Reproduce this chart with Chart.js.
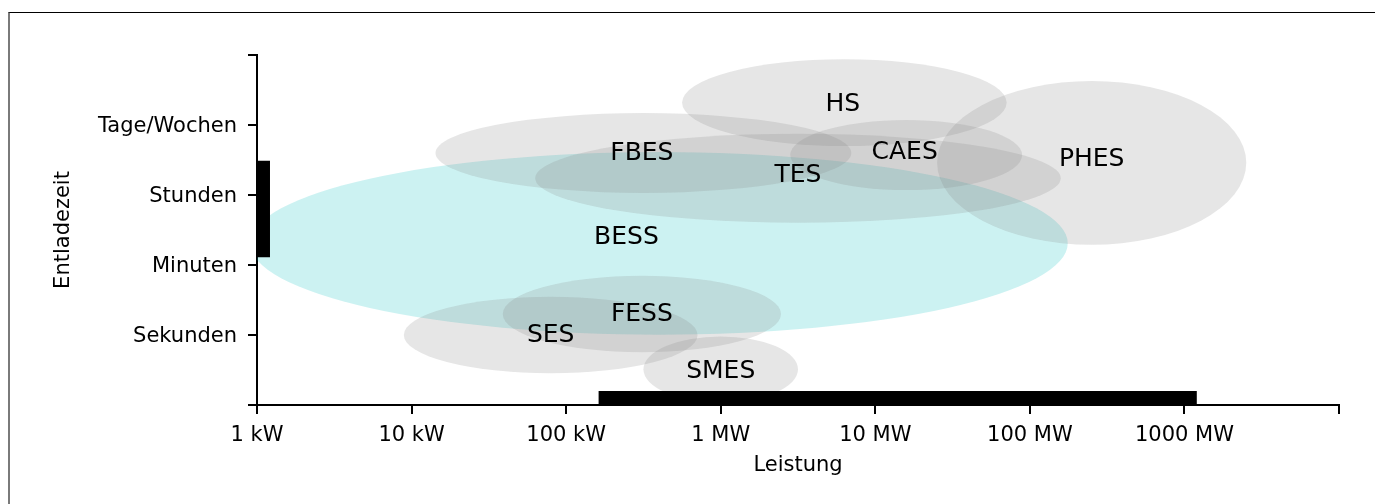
<!DOCTYPE html>
<html>
<head>
<meta charset="utf-8">
<script src="https://cdn.jsdelivr.net/npm/chart.js@4.4.1/dist/chart.umd.min.js"></script>
<style>
  html, body { margin: 0; padding: 0; background: #fff; }
  #wrap { position: relative; width: 1375px; height: 504px; overflow: hidden; }
  #myChart { position: absolute; left: 0; top: 0; }
  #frame { position: absolute; left: 8px; top: 12px; right: -10px; bottom: -10px;
           border-top: 1px solid #000; border-left: 2px solid #7a7a7a; pointer-events: none; }
</style>
</head>
<body>
<div id="wrap">
  <canvas id="myChart" width="1375" height="504"></canvas>
  <div id="frame"></div>
</div>
<script>
// x is in decades above 1 kW, y is the discharge time class (1 = Sekunden ... 4 = Tage/Wochen)
var xTickLabels = ['1 kW', '10 kW', '100 kW', '1 MW', '10 MW', '100 MW', '1000 MW', ''];
var yTickLabels = ['', 'Sekunden', 'Minuten', 'Stunden', 'Tage/Wochen', ''];

// the storage technologies: ellipse centre and full width / height
var techNames = ['BESS', 'FBES', 'TES', 'HS', 'CAES', 'PHES', 'FESS', 'SES', 'SMES'];
var centerX   = [2.60, 2.50, 3.50, 3.80, 4.20, 5.40, 2.49, 1.90, 3.00];
var centerY   = [2.31, 3.60, 3.24, 4.32, 3.57, 3.46, 1.30, 1.00, 0.51];
var spanX     = [5.29, 2.69, 3.40, 2.10, 1.50, 2.00, 1.80, 1.90, 1.00];
var spanY     = [2.61, 1.14, 1.27, 1.24, 1.00, 2.34, 1.09, 1.09, 0.94];
// where the names are written
var labelX    = [2.39, 2.49, 3.50, 3.79, 4.19, 5.40, 2.49, 1.90, 3.00];
var labelY    = [2.40, 3.60, 3.28, 4.30, 3.61, 3.51, 1.30, 1.00, 0.48];

// the two black bars (range covered on each axis)
var powerBarX = [2.21, 6.08];
var powerBarY = 0.1;
var timeBarY = [2.11, 3.49];
var timeBarX = 0.042;

var font = 'DejaVu Sans';

var ellipsePlugin = {
  id: 'ellipses',
  beforeDatasetsDraw: function(chart) {
    var ctx = chart.ctx, xs = chart.scales.x, ys = chart.scales.y, a = chart.chartArea;
    ctx.save();
    ctx.beginPath();
    ctx.rect(a.left, a.top, a.right - a.left, a.bottom - a.top);
    ctx.clip();
    for (var i = 0; i < techNames.length; i++) {
      var px = xs.getPixelForValue(centerX[i]);
      var py = ys.getPixelForValue(centerY[i]);
      var rx = Math.abs(xs.getPixelForValue(centerX[i] + spanX[i] / 2) - px);
      var ry = Math.abs(ys.getPixelForValue(centerY[i] + spanY[i] / 2) - py);
      ctx.beginPath();
      ctx.ellipse(px, py, rx, ry, 0, 0, Math.PI * 2);
      ctx.fillStyle = techNames[i] == 'BESS' ? 'rgba(0,191,191,0.2)' : 'rgba(128,128,128,0.2)';
      ctx.fill();
    }
    ctx.restore();
  },
  afterDatasetsDraw: function(chart) {
    var ctx = chart.ctx, xs = chart.scales.x, ys = chart.scales.y;
    ctx.save();
    ctx.font = '25px "' + font + '"';
    ctx.fillStyle = '#000';
    ctx.textAlign = 'center';
    ctx.textBaseline = 'middle';
    for (var i = 0; i < techNames.length; i++) {
      ctx.fillText(techNames[i], xs.getPixelForValue(labelX[i]), ys.getPixelForValue(labelY[i]));
    }
    ctx.restore();
  }
};

var ctx = document.getElementById('myChart');
var myChart = new Chart(ctx, {
  type: 'line',
  data: {
    datasets: [
      {
        data: [{x: powerBarX[0], y: powerBarY}, {x: powerBarX[1], y: powerBarY}],
        borderColor: '#000',
        borderWidth: 14,
        borderCapStyle: 'butt',
        pointRadius: 0
      },
      {
        data: [{x: timeBarX, y: timeBarY[0]}, {x: timeBarX, y: timeBarY[1]}],
        borderColor: '#000',
        borderWidth: 13,
        borderCapStyle: 'butt',
        pointRadius: 0
      }
    ]
  },
  options: {
    responsive: false,
    animation: false,
    layout: { padding: { top: 55, right: 36, left: 0, bottom: 0 } },
    plugins: { legend: { display: false }, tooltip: { enabled: false } },
    scales: {
      x: {
        type: 'linear', min: 0, max: 7,
        afterFit: function(scale) { scale.height = 99; },
        border: { color: '#000', width: 2 },
        grid: { drawOnChartArea: false, tickLength: 9, color: '#000', lineWidth: 2 },
        ticks: {
          stepSize: 1, autoSkip: false, maxRotation: 0, padding: 9,
          color: '#000', font: { family: font, size: 21 },
          callback: function(v) { return xTickLabels[v]; }
        },
        title: { display: true, text: 'Leistung', color: '#000',
                 font: { family: font, size: 21 }, padding: { top: 0, bottom: 26 } }
      },
      y: {
        type: 'linear', min: 0, max: 5,
        afterFit: function(scale) { scale.width = 257; },
        border: { color: '#000', width: 2 },
        grid: { drawOnChartArea: false, tickLength: 9, color: '#000', lineWidth: 2 },
        ticks: {
          stepSize: 1, autoSkip: false, padding: 11, labelOffset: 2,
          color: '#000', font: { family: font, size: 21 },
          callback: function(v) { return yTickLabels[v]; }
        },
        title: { display: true, text: 'Entladezeit', color: '#000',
                 font: { family: font, size: 21 }, padding: { top: 51, bottom: 0 } }
      }
    }
  },
  plugins: [ellipsePlugin]
});
</script>
</body>
</html>
